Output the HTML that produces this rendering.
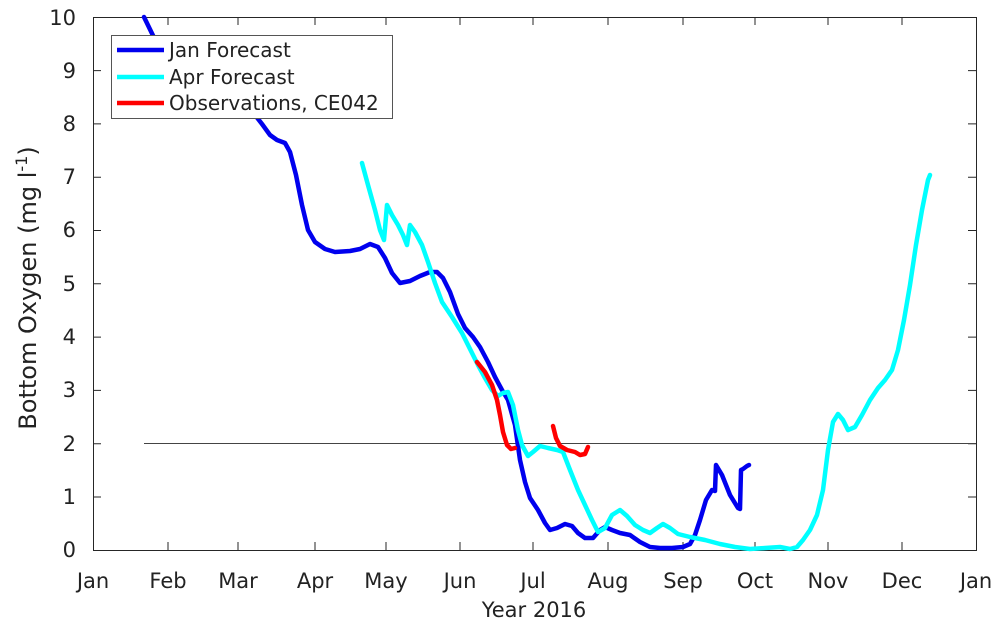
<!DOCTYPE html>
<html><head><style>body{margin:0;background:#fff}svg{display:block}text{font-family:"DejaVu Sans","Liberation Sans",sans-serif;fill:#222}</style></head>
<body>
<svg width="1000" height="629" viewBox="0 0 1000 629" xmlns="http://www.w3.org/2000/svg">
<rect width="1000" height="629" fill="#fff"/>
<g stroke="#262626" stroke-width="1" fill="none">
<rect x="93.5" y="17.5" width="883" height="533"/>
<path d="M93 497h8M93 443.7h8M93 390.4h8M93 337.1h8M93 283.8h8M93 230.5h8M93 177.2h8M93 123.9h8M93 70.6h8M976 497h-8M976 443.7h-8M976 390.4h-8M976 337.1h-8M976 283.8h-8M976 230.5h-8M976 177.2h-8M976 123.9h-8M976 70.6h-8"/>
<path d="M168 550v-8M238 550v-8M315 550v-8M386 550v-8M460 550v-8M533 550v-8M608 550v-8M683 550v-8M755 550v-8M828 550v-8M902 550v-8M168 17v8M238 17v8M315 17v8M386 17v8M460 17v8M533 17v8M608 17v8M683 17v8M755 17v8M828 17v8M902 17v8"/>
<path d="M144 443.5H976" stroke="#444"/>
</g>
<g font-size="21" text-anchor="end">
<text x="76" y="557">0</text><text x="76" y="504">1</text><text x="76" y="451">2</text><text x="76" y="397">3</text><text x="76" y="344">4</text><text x="76" y="291">5</text><text x="76" y="237">6</text><text x="76" y="184">7</text><text x="76" y="131">8</text><text x="76" y="78">9</text><text x="76" y="25">10</text>
</g>
<g font-size="21" text-anchor="middle">
<text x="93" y="588">Jan</text><text x="168" y="588">Feb</text><text x="238" y="588">Mar</text><text x="315" y="588">Apr</text><text x="386" y="588">May</text><text x="460" y="588">Jun</text><text x="533" y="588">Jul</text><text x="608" y="588">Aug</text><text x="683" y="588">Sep</text><text x="755" y="588">Oct</text><text x="828" y="588">Nov</text><text x="902" y="588">Dec</text><text x="976" y="588">Jan</text>
<text x="534" y="617">Year 2016</text>
<text transform="translate(36,288) rotate(-90)" font-size="24">Bottom Oxygen (mg l<tspan dy="-9" font-size="16">-1</tspan><tspan dy="9">)</tspan></text>
</g>
<g fill="none" stroke-width="4.5" stroke-linejoin="round" stroke-linecap="round">
<polyline stroke="#0000ee" points="144,17 160,50 200,85 240,105 255,115 262,124 270,135 277,140 285,143 290,152 296,175 302,205 308,230 315,242 325,249 335,252 350,251 360,249 370,244 378,247 385,258 392,273 400,283 410,281 420,276 430,272 437,272 443,278 450,292 458,314 465,328 473,337 480,347 488,362 495,377 502,390 508,400 515,425 520,460 525,482 530,498 538,510 545,523 550,530 557,528 565,524 572,526 578,533 585,538 593,538 600,530 605,527 612,530 620,533 630,535 640,542 650,547 660,548 672,548 683,547 690,544 695,535 700,520 706,500 712,490 715,491 716,465 722,475 730,495 738,508 740,509 741,470 743,469 747,466 749,465"/>
<polyline stroke="#00ffff" points="362,163 368,185 375,210 380,230 384,240 387,205 392,215 398,225 403,235 407,245 410,225 415,232 422,245 428,262 435,283 442,302 452,317 462,333 470,349 478,365 485,378 492,390 498,396 503,393 508,392 513,405 518,430 522,445 528,456 533,452 540,446 548,448 557,450 563,452 570,470 578,490 585,505 592,520 598,532 605,528 612,515 620,510 627,516 635,525 643,530 650,533 657,528 663,524 670,528 678,534 690,537 705,540 720,544 735,547 750,549 765,548 780,547 790,549 797,547 803,540 810,530 817,515 823,490 828,450 833,422 838,414 843,420 848,430 855,427 862,415 870,400 878,388 885,380 892,370 898,350 904,320 910,285 916,245 922,210 928,180 930,175"/>
<polyline stroke="#ff0000" points="477,362 485,372 492,385 497,400 500,415 503,432 507,445 511,449 515,448"/>
<polyline stroke="#ff0000" points="553,426 556,438 560,446 567,450 575,452 580,455 585,454 588,447"/>
</g>
<rect x="111.5" y="35.5" width="281" height="83" fill="#fff" stroke="#555"/>
<g stroke-width="4.5"><path d="M117 50h47" stroke="#0000ee"/><path d="M117 77h47" stroke="#00ffff"/><path d="M117 103h47" stroke="#ff0000"/></g>
<g font-size="20"><text x="169" y="57">Jan Forecast</text><text x="169" y="84">Apr Forecast</text><text x="169" y="110">Observations, CE042</text></g>
</svg>
</body></html>
